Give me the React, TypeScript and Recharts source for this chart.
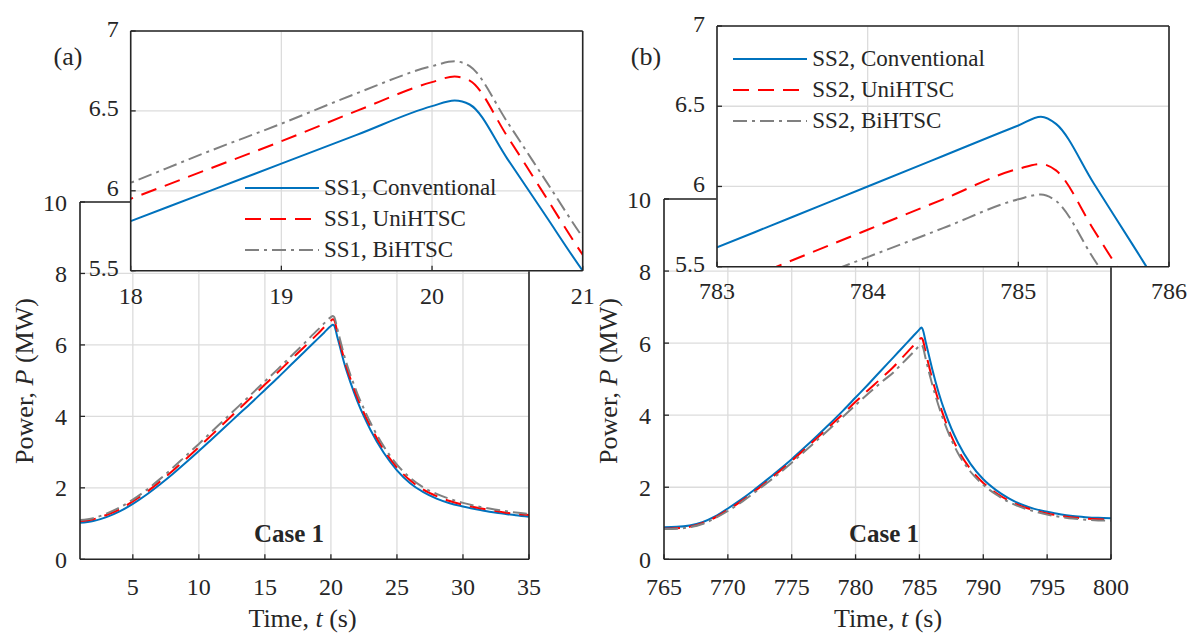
import React from 'react';
import { LineChart, Line, XAxis, YAxis, CartesianGrid, Legend } from 'recharts';

// ---- data ----
const ss1Time = [1, 2, 3, 4, 5, 6, 7, 8, 9, 10, 11, 12, 13, 14, 15, 16, 17, 18, 18.5, 19, 19.5, 20, 20.15, 20.25, 20.5, 20.75, 21, 21.5, 22, 22.5, 23, 24, 25, 26, 27, 28, 29, 30, 31, 32, 33, 34, 35];
const ss1Conventional = [1.02, 1.07, 1.18, 1.34, 1.55, 1.8, 2.08, 2.38, 2.7, 3.03, 3.37, 3.71, 4.05, 4.39, 4.74, 5.09, 5.45, 5.81, 5.99, 6.17, 6.35, 6.53, 6.565, 6.54, 6.2, 5.85, 5.5, 4.93, 4.43, 4.0, 3.62, 2.98, 2.49, 2.13, 1.88, 1.7, 1.57, 1.48, 1.4, 1.33, 1.28, 1.23, 1.19];
const ss1UniHTSC = [1.07, 1.12, 1.24, 1.4, 1.62, 1.87, 2.16, 2.47, 2.8, 3.14, 3.49, 3.84, 4.19, 4.54, 4.89, 5.24, 5.6, 5.95, 6.13, 6.31, 6.5, 6.68, 6.715, 6.69, 6.34, 5.97, 5.6, 5.03, 4.53, 4.1, 3.72, 3.07, 2.57, 2.21, 1.95, 1.77, 1.63, 1.53, 1.45, 1.38, 1.32, 1.27, 1.24];
const ss1BiHTSC = [1.1, 1.15, 1.28, 1.45, 1.67, 1.93, 2.23, 2.55, 2.89, 3.23, 3.58, 3.93, 4.28, 4.63, 4.98, 5.33, 5.69, 6.05, 6.24, 6.42, 6.61, 6.78, 6.81, 6.78, 6.43, 6.07, 5.71, 5.14, 4.64, 4.21, 3.82, 3.16, 2.65, 2.28, 2.01, 1.83, 1.69, 1.58, 1.49, 1.42, 1.36, 1.31, 1.27];

const ss2Time = [765, 766, 767, 768, 769, 770, 771, 772, 773, 774, 775, 776, 777, 778, 779, 780, 781, 782, 783, 783.5, 784, 784.5, 785, 785.15, 785.25, 785.5, 785.75, 786, 786.5, 787, 787.5, 788, 789, 790, 791, 792, 793, 794, 795, 796, 797, 798, 799, 800];
const ss2Conventional = [0.89, 0.9, 0.94, 1.03, 1.19, 1.41, 1.65, 1.91, 2.19, 2.48, 2.78, 3.1, 3.43, 3.77, 4.12, 4.49, 4.86, 5.24, 5.62, 5.81, 6.0, 6.19, 6.38, 6.435, 6.39, 6.02, 5.65, 5.28, 4.63, 4.09, 3.63, 3.25, 2.65, 2.22, 1.92, 1.69, 1.52, 1.4, 1.32, 1.25, 1.2, 1.17, 1.15, 1.14];
const ss2UniHTSC = [0.85, 0.86, 0.9, 1.0, 1.16, 1.37, 1.6, 1.86, 2.14, 2.43, 2.73, 3.05, 3.37, 3.7, 4.03, 4.37, 4.7, 5.02, 5.35, 5.54, 5.73, 5.92, 6.11, 6.14, 6.1, 5.73, 5.36, 5.01, 4.39, 3.87, 3.42, 3.05, 2.5, 2.12, 1.84, 1.63, 1.47, 1.36, 1.27, 1.21, 1.16, 1.13, 1.11, 1.1];
const ss2BiHTSC = [0.84, 0.85, 0.89, 0.98, 1.14, 1.34, 1.57, 1.83, 2.1, 2.38, 2.68, 2.99, 3.31, 3.63, 3.95, 4.28, 4.6, 4.91, 5.2, 5.38, 5.56, 5.74, 5.92, 5.95, 5.91, 5.55, 5.19, 4.86, 4.26, 3.75, 3.32, 2.96, 2.43, 2.07, 1.8, 1.59, 1.44, 1.33, 1.24, 1.18, 1.13, 1.1, 1.08, 1.07];

const mainYTicks = [0, 2, 4, 6, 8, 10];
const insetYTicks = [5.5, 6, 6.5, 7];
const ss1MainXTicks = [5, 10, 15, 20, 25, 30, 35];
const ss2MainXTicks = [765, 770, 775, 780, 785, 790, 795, 800];
const ss1InsetXTicks = [18, 19, 20, 21];
const ss2InsetXTicks = [783, 784, 785, 786];

const ss1Labels = ['SS1, Conventional', 'SS1, UniHTSC', 'SS1, BiHTSC'];
const ss2Labels = ['SS2, Conventional', 'SS2, UniHTSC', 'SS2, BiHTSC'];

const SERIES = [
  { key: 'conv', color: '#0072BD', dash: undefined as string | undefined },
  { key: 'uni', color: '#FF0000', dash: '16 9' },
  { key: 'bi', color: '#808080', dash: '14 5 3 5' },
];

const ss1Data = ss1Time.map((t, i) => ({ t, conv: ss1Conventional[i], uni: ss1UniHTSC[i], bi: ss1BiHTSC[i] }));
const ss2Data = ss2Time.map((t, i) => ({ t, conv: ss2Conventional[i], uni: ss2UniHTSC[i], bi: ss2BiHTSC[i] }));

// ---- styles ----
const FONT = '"Liberation Serif", "Times New Roman", serif';
const INK = '#262626';
const GRID = '#dcdcdc';
const tickText = { fill: INK, fontSize: 24, fontFamily: FONT };
const insetTickY = { ...tickText, dy: -3 };
const tickLine = { stroke: INK, strokeWidth: 1.3 };
const axisLine = { stroke: INK, strokeWidth: 1.6 };

const LegendBox = ({ labels }: { labels: string[] }) => (
  <div style={{ fontFamily: FONT, fontSize: 23, color: INK }}>
    {SERIES.map((s, i) => (
      <div key={s.key} style={{ display: 'flex', alignItems: 'center', height: 30.8 }}>
        <svg width={74} height={10} style={{ display: 'block' }}>
          <line x1={0} y1={5} x2={74} y2={5} stroke={s.color} strokeWidth={2} strokeDasharray={s.dash} />
        </svg>
        <span style={{ marginLeft: 5, whiteSpace: 'nowrap', lineHeight: '26px' }}>{labels[i]}</span>
      </div>
    ))}
  </div>
);

interface PanelProps {
  data: { t: number; conv: number; uni: number; bi: number }[];
  left: number;
  width: number;
  height: number;
  margin: { top: number; right: number; bottom: number; left: number };
  xDomain: [number, number];
  yDomain: [number, number];
  xTicks: number[];
  yTicks: number[];
  xTickMargin: number;
  yTickMargin: number;
  inset?: boolean;
  legend?: { labels: string[]; left: number; top: number };
}

const Panel: React.FC<PanelProps> = ({
  data, left, width, height, margin, xDomain, yDomain, xTicks, yTicks, xTickMargin, yTickMargin, inset, legend,
}) => (
  <div style={{ position: 'absolute', left, top: 0 }}>
    <LineChart width={width} height={height} data={data} margin={margin}>
      <CartesianGrid stroke={GRID} strokeWidth={1.3} fill={inset ? '#ffffff' : 'none'} fillOpacity={1} />
      <XAxis
        dataKey="t"
        type="number"
        domain={xDomain}
        ticks={xTicks}
        interval={0}
        allowDataOverflow
        height={40}
        tickSize={-5}
        tickMargin={xTickMargin}
        tick={tickText}
        tickLine={tickLine}
        axisLine={axisLine}
      />
      <XAxis
        xAxisId="top"
        orientation="top"
        type="number"
        domain={xDomain}
        ticks={xTicks}
        interval={0}
        allowDataOverflow
        height={1}
        tickSize={-5}
        tick={false}
        tickLine={tickLine}
        axisLine={axisLine}
      />
      <YAxis
        type="number"
        domain={yDomain}
        ticks={yTicks}
        interval={0}
        allowDataOverflow
        width={60}
        tickSize={-5}
        tickMargin={yTickMargin}
        tick={inset ? insetTickY : tickText}
        tickLine={tickLine}
        axisLine={axisLine}
      />
      <YAxis
        yAxisId="right"
        orientation="right"
        type="number"
        domain={yDomain}
        ticks={yTicks}
        interval={0}
        allowDataOverflow
        width={1}
        tickSize={-5}
        tick={false}
        tickLine={tickLine}
        axisLine={axisLine}
      />
      {SERIES.map((s) => (
        <Line
          key={s.key}
          type="monotone"
          dataKey={s.key}
          stroke={s.color}
          strokeWidth={2}
          strokeDasharray={s.dash}
          dot={false}
          activeDot={false}
          isAnimationActive={false}
        />
      ))}
      {legend && (
        <Legend
          layout="vertical"
          align="center"
          verticalAlign="middle"
          content={() => <LegendBox labels={legend.labels} />}
          wrapperStyle={{ left: legend.left, top: legend.top, width: 'auto', height: 'auto' }}
        />
      )}
    </LineChart>
  </div>
);

const textStyle = { fontFamily: FONT, fill: INK };

const App: React.FC = () => (
  <div style={{ position: 'absolute', left: 0, top: 0, width: 1192, height: 634, background: '#fff' }}>
    {/* (a) main */}
    <Panel
      data={ss1Data} left={0} width={600} height={634}
      margin={{ top: 201, right: 70, bottom: 34.7, left: 20 }}
      xDomain={[1, 35]} yDomain={[0, 10]} xTicks={ss1MainXTicks} yTicks={mainYTicks}
      xTickMargin={24} yTickMargin={18}
    />
    {/* (a) inset */}
    <Panel
      data={ss1Data} left={0} width={600} height={320}
      margin={{ top: 30, right: 16.3, bottom: 9.3, left: 70.7 }}
      xDomain={[18, 21]} yDomain={[5.5, 7]} xTicks={ss1InsetXTicks} yTicks={insetYTicks}
      xTickMargin={21} yTickMargin={17} inset
      legend={{ labels: ss1Labels, left: 245, top: 173 }}
    />
    {/* (b) main */}
    <Panel
      data={ss2Data} left={596} width={596} height={634}
      margin={{ top: 198, right: 80, bottom: 34.7, left: 8 }}
      xDomain={[765, 800]} yDomain={[0, 10]} xTicks={ss2MainXTicks} yTicks={mainYTicks}
      xTickMargin={24} yTickMargin={18}
    />
    {/* (b) inset */}
    <Panel
      data={ss2Data} left={596} width={596} height={320}
      margin={{ top: 25, right: 22, bottom: 13.3, left: 61 }}
      xDomain={[783, 786]} yDomain={[5.5, 7]} xTicks={ss2InsetXTicks} yTicks={insetYTicks}
      xTickMargin={20} yTickMargin={17} inset
      legend={{ labels: ss2Labels, left: 137.3, top: 44 }}
    />
    <svg width={1192} height={634} style={{ position: 'absolute', left: 0, top: 0, pointerEvents: 'none' }}>
      <text x={68} y={65} textAnchor="middle" fontSize={26} {...textStyle}>(a)</text>
      <text x={646} y={65} textAnchor="middle" fontSize={26} {...textStyle}>(b)</text>
      <text x={289} y={541.5} textAnchor="middle" fontSize={25} fontWeight="bold" {...textStyle}>Case 1</text>
      <text x={884} y={541.5} textAnchor="middle" fontSize={25} fontWeight="bold" {...textStyle}>Case 1</text>
      <text x={302.5} y={627} textAnchor="middle" fontSize={26} {...textStyle}>
        Time, <tspan fontStyle="italic">t</tspan> (s)
      </text>
      <text x={888} y={627} textAnchor="middle" fontSize={26} {...textStyle}>
        Time, <tspan fontStyle="italic">t</tspan> (s)
      </text>
      <text transform="translate(33,381) rotate(-90)" textAnchor="middle" fontSize={26} {...textStyle}>
        Power, <tspan fontStyle="italic">P</tspan> (MW)
      </text>
      <text transform="translate(617,381) rotate(-90)" textAnchor="middle" fontSize={26} {...textStyle}>
        Power, <tspan fontStyle="italic">P</tspan> (MW)
      </text>
    </svg>
  </div>
);

export default App;
